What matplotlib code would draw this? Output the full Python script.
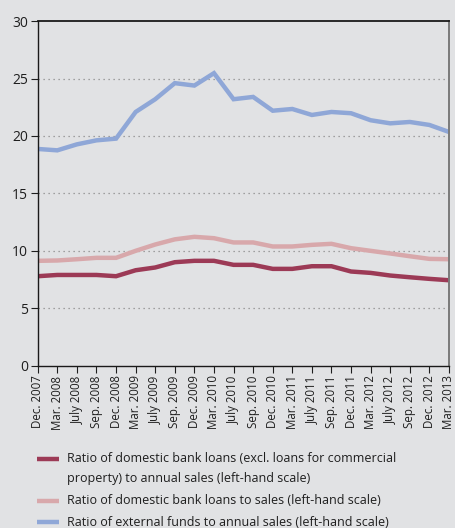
import matplotlib
matplotlib.use("Agg")
import matplotlib.pyplot as plt
from matplotlib.lines import Line2D

dates = ["Dec. 2007", "Mar. 2008", "July 2008", "Sep. 2008", "Dec. 2008",
         "Mar. 2009", "July 2009", "Sep. 2009", "Dec. 2009", "Mar. 2010",
         "July 2010", "Sep. 2010", "Dec. 2010", "Mar. 2011", "July 2011",
         "Sep. 2011", "Dec. 2011", "Mar. 2012", "July 2012", "Sep. 2012",
         "Dec. 2012", "Mar. 2013"]

loans_excl_commercial = [7.79, 7.90, 7.90, 7.90, 7.79, 8.31, 8.55, 9.01, 9.13, 9.13,
                         8.78, 8.78, 8.43, 8.43, 8.66, 8.66, 8.20, 8.08, 7.85, 7.70,
                         7.56, 7.44]
loans_to_sales = [9.13, 9.16, 9.27, 9.39, 9.39, 10.00, 10.55, 11.00, 11.22, 11.10,
                  10.73, 10.73, 10.38, 10.38, 10.52, 10.61, 10.23, 10.00, 9.77, 9.53,
                  9.30, 9.27]
external_funds = [18.87, 18.75, 19.27, 19.62, 19.77, 22.09, 23.20, 24.60, 24.39, 25.47,
                  23.20, 23.40, 22.20, 22.35, 21.83, 22.09, 21.98, 21.37, 21.10, 21.22,
                  20.96, 20.35]

labels = [
    "Ratio of domestic bank loans (excl. loans for commercial\nproperty) to annual sales (left-hand scale)",
    "Ratio of domestic bank loans to sales (left-hand scale)",
    "Ratio of external funds to annual sales (left-hand scale)",
]
colors = ["#9c3a56", "#d8a8ab", "#8fa7d7"]

plt.rcParams["font.family"] = ["Open Sans", "DejaVu Sans"]
bg = "#e1e2e4"
W, H = 456, 528

fig = plt.figure(figsize=(W / 100, H / 100), dpi=100, facecolor=bg)
ax = fig.add_axes([0.0827, 0.3074, 0.9019, 0.6526], facecolor=bg)

x = list(range(len(dates)))
series = [loans_excl_commercial, loans_to_sales, external_funds]
for vals, c in zip(series, colors):
    ax.plot(x, vals, color=c, lw=3.2, solid_capstyle="butt", solid_joinstyle="miter")

ax.set_xlim(0, len(dates) - 1)
ax.set_ylim(0, 30)
ax.set_yticks([0, 5, 10, 15, 20, 25, 30])
ax.set_xticks(x)
ax.set_xticklabels(dates, rotation=90, fontsize=8.3, color="#1e1e1e")
ax.tick_params(axis="y", labelsize=10, colors="#1e1e1e", length=5, width=0.8,
               direction="out", pad=2)
ax.tick_params(axis="x", length=5, width=0.8, direction="out", pad=2, colors="#1e1e1e")

for yv in [5, 10, 15, 20, 25]:
    ax.axhline(yv, color="#8a8a8a", lw=0.9, ls=(0, (1, 3)), zorder=0)

for side in ["left", "bottom", "top"]:
    ax.spines[side].set_color("#1a1a1a")
    ax.spines[side].set_linewidth(1.0)
ax.spines["top"].set_linewidth(1.3)
ax.spines["right"].set_color("#7a7a7a")
ax.spines["right"].set_linewidth(1.4)

# legend drawn below the axes: a colour stroke followed by its caption
entry_rows = [459, 501, 522]
for row, c, text in zip(entry_rows, colors, labels):
    yf = 1 - row / H
    fig.add_artist(Line2D([37 / W, 59 / W], [yf, yf], color=c, lw=3.2,
                          solid_capstyle="butt", transform=fig.transFigure))
    fig.text(67 / W, yf + 6.5 / H, text, fontsize=9.0, color="#1e1e1e",
             va="top", ha="left", linespacing=1.65)

fig.savefig("out.png", dpi=100, facecolor=bg)
